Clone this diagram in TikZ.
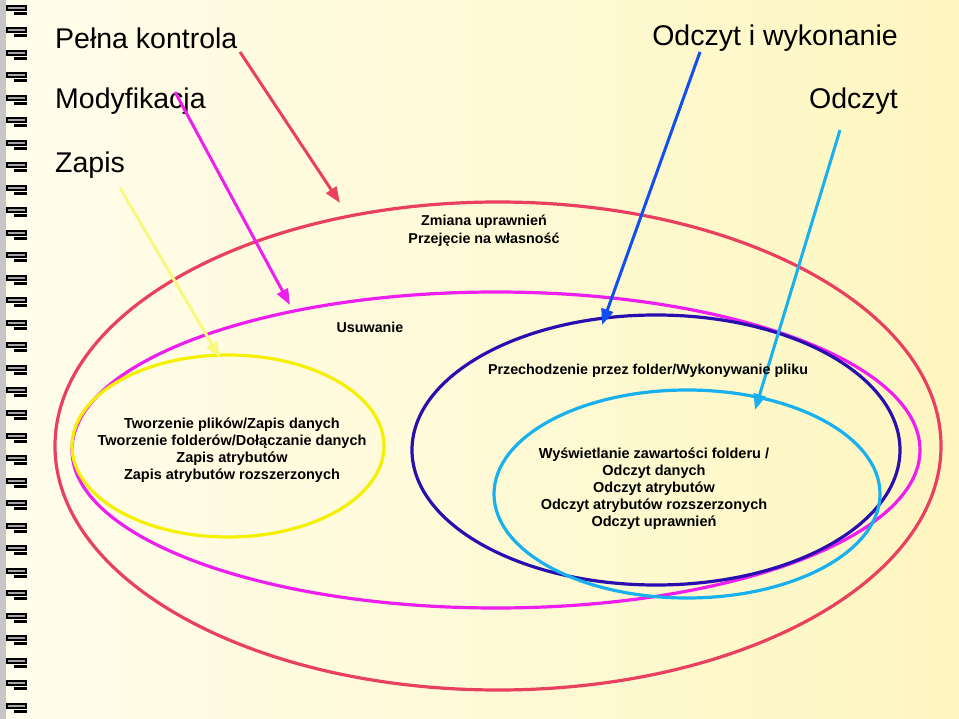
\documentclass[tikz,border=0pt]{standalone}
\usepackage{fontspec}
\setmainfont{Liberation Sans}
\usetikzlibrary{arrows.meta}
\definecolor{cred}{HTML}{E8405E}
\definecolor{cmag}{HTML}{EE1EEE}
\definecolor{cyel}{HTML}{F5F000}
\definecolor{cyl}{HTML}{F8F880}
\definecolor{cdb}{HTML}{2A0FB0}
\definecolor{cblue}{HTML}{1050F0}
\definecolor{clb}{HTML}{18B0EE}
\tikzset{
 ell/.style={line width=3.2pt},
 arr/.style={line width=3pt,-{Triangle[length=16pt,width=12pt]}},
 big/.style={font=\fontsize{28.5}{32}\selectfont,inner sep=0pt},
 small/.style={font=\bfseries\fontsize{14.3}{18}\selectfont,align=center,inner sep=0pt},
 mid/.style={font=\bfseries\fontsize{14.5}{17}\selectfont,align=center,inner sep=0pt},
}
\begin{document}
\begin{tikzpicture}[x=1pt,y=-1pt]
\shade[left color={rgb,255:red,255;green,253;blue,236}, right color={rgb,255:red,254;green,246;blue,192}] (0,0) rectangle (959,719);
\useasboundingbox (0,0) rectangle (959,719);
\fill[gray!45] (0,0) rectangle (6,719);
\foreach \i in {0,...,31}{
  \pgfmathsetmacro\yy{8+22.5*\i}
  \fill[black] (6,\yy-3) rectangle (27,\yy+3);
  \fill[gray!70] (8,\yy-1) rectangle (25,\yy+1);
  \fill[black] (14,\yy+4) rectangle (27,\yy+7);
}
% ellipses
\draw[cred,ell] (498,446) ellipse [x radius=443,y radius=244];
\draw[cmag,ell] (496,450) ellipse [x radius=424,y radius=158];
\draw[cdb,ell] (656,450) ellipse [x radius=244,y radius=135];
\draw[clb,ell] (687,494) ellipse [x radius=193,y radius=104];
\draw[cyel,ell] (228,446) ellipse [x radius=156,y radius=91];
% labels
\node[big,anchor=west] (pk) at (55,38) {Pełna kontrola};
\node[big,anchor=west] (mod) at (55,101) {Modyfikacja};
\node[big,anchor=west] (zap) at (55,165) {Zapis};
\node[big,anchor=east] (oiw) at (898,38) {Odczyt i wykonanie};
\node[big,anchor=east] (odc) at (898,101) {Odczyt};
\coordinate (sred) at (240,52); \coordinate (ered) at (340,203);
\coordinate (smag) at (175,92); \coordinate (emag) at (290,305);
\coordinate (syel) at (120,188); \coordinate (eyel) at (220,358);
\coordinate (sblue) at (700,52); \coordinate (eblue) at (602,325);
\coordinate (slb) at (840,130); \coordinate (elb) at (755,410);
\draw[arr,cred] (sred) -- (ered);
\draw[arr,cmag] (smag) -- (emag);
\draw[arr,cyl] (syel) -- (eyel);
\draw[arr,cblue] (sblue) -- (eblue);
\draw[arr,clb] (slb) -- (elb);
\node[small] (t1) at (484,231) {Zmiana uprawnień\\Przejęcie na własność};
\node[small] (t2) at (370,327) {Usuwanie};
\node[small] (t3) at (648,371) {Przechodzenie przez folder/Wykonywanie pliku};
\node[mid] (t4) at (232,450) {Tworzenie plików/Zapis danych\\Tworzenie folderów/Dołączanie danych\\Zapis atrybutów\\Zapis atrybutów rozszerzonych};
\node[mid] (t5) at (654,489) {Wyświetlanie zawartości folderu /\\Odczyt danych\\Odczyt atrybutów\\Odczyt atrybutów rozszerzonych\\Odczyt uprawnień};
\end{tikzpicture}
\end{document}
